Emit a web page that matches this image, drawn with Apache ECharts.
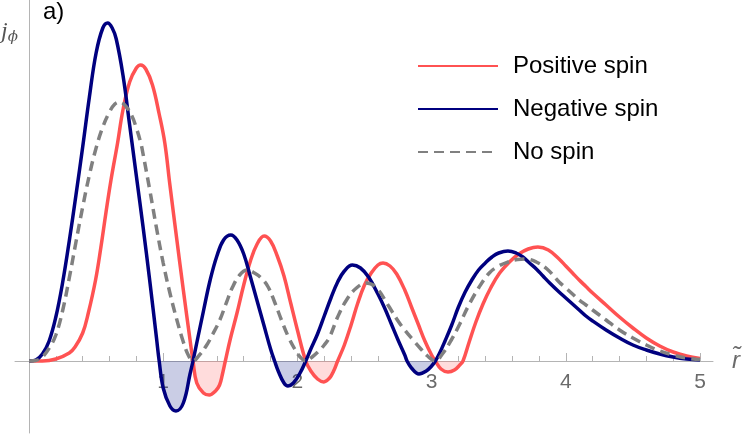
<!DOCTYPE html>
<html>
<head>
<meta charset="utf-8">
<script src="https://cdn.jsdelivr.net/npm/echarts@6/dist/echarts.min.js"></script>
<style>
html, body { margin: 0; padding: 0; background: #fff; }
#chart { width: 750px; height: 436px; }
</style>
</head>
<body>
<div id="chart"></div>
<script>
// [r, j] pairs (j in arbitrary units)
var positiveSpin = [
  [0, 0], [0.1, 0], [0.2, 0.02], [0.3, 0.08], [0.343, 0.14], [0.4, 0.28], [0.442, 0.48],
  [0.496, 0.81], [0.536, 1.14], [0.573, 1.48], [0.611, 1.81], [0.66, 2.18], [0.7, 2.51],
  [0.75, 2.79], [0.8, 2.93], [0.832, 2.96], [0.87, 2.92], [0.92, 2.76], [0.97, 2.47],
  [1.012, 2.18], [1.05, 1.76], [1.1, 1.23], [1.15, 0.71], [1.2, 0.21], [1.222, 0],
  [1.25, -0.22], [1.3, -0.32], [1.343, -0.34], [1.39, -0.30], [1.42, -0.24], [1.44, -0.14],
  [1.463, 0], [1.5, 0.22], [1.55, 0.48], [1.6, 0.76], [1.65, 1.0], [1.7, 1.17], [1.752, 1.25],
  [1.8, 1.2], [1.85, 1.05], [1.9, 0.85], [1.95, 0.58], [2.0, 0.31], [2.062, 0],
  [2.1, -0.1], [2.15, -0.18], [2.197, -0.21], [2.24, -0.17], [2.27, -0.1], [2.3, 0],
  [2.35, 0.16], [2.4, 0.36], [2.45, 0.58], [2.5, 0.76], [2.55, 0.88], [2.6, 0.96],
  [2.638, 0.98], [2.69, 0.95], [2.74, 0.87], [2.8, 0.71], [2.85, 0.54], [2.9, 0.37],
  [2.95, 0.2], [3.0, 0.06], [3.028, 0], [3.07, -0.08], [3.122, -0.11], [3.17, -0.09],
  [3.21, -0.04], [3.234, 0], [3.28, 0.19], [3.33, 0.39], [3.383, 0.57], [3.44, 0.73],
  [3.507, 0.88], [3.58, 0.99], [3.65, 1.07], [3.72, 1.12], [3.792, 1.14], [3.87, 1.11],
  [3.95, 1.02], [4.0, 0.95], [4.05, 0.88], [4.1, 0.81], [4.15, 0.745], [4.2, 0.68],
  [4.3, 0.56], [4.4, 0.44], [4.5, 0.33], [4.6, 0.23], [4.7, 0.15], [4.8, 0.09],
  [4.9, 0.05], [5, 0.024]
]
var negativeSpin = [
  [0, 0], [0.05, 0.01], [0.1, 0.07], [0.15, 0.2], [0.2, 0.44], [0.25, 0.78], [0.3, 1.2],
  [0.35, 1.66], [0.4, 2.14], [0.45, 2.64], [0.5, 3.08], [0.55, 3.33], [0.586, 3.38],
  [0.62, 3.33], [0.65, 3.22], [0.7, 2.86], [0.75, 2.36], [0.8, 1.85], [0.85, 1.34],
  [0.9, 0.8], [0.95, 0.23], [0.97, 0], [1.0, -0.27], [1.05, -0.45], [1.095, -0.5],
  [1.15, -0.42], [1.2, -0.13], [1.222, 0], [1.25, 0.18], [1.3, 0.5], [1.35, 0.81],
  [1.4, 1.05], [1.45, 1.21], [1.504, 1.26], [1.55, 1.21], [1.6, 1.07], [1.65, 0.84],
  [1.7, 0.6], [1.75, 0.36], [1.8, 0.12], [1.83, 0], [1.86, -0.11], [1.9, -0.22],
  [1.93, -0.25], [1.97, -0.22], [2.02, -0.12], [2.062, 0], [2.1, 0.12], [2.15, 0.27],
  [2.2, 0.45], [2.25, 0.63], [2.3, 0.79], [2.35, 0.9], [2.41, 0.96], [2.47, 0.93],
  [2.53, 0.84], [2.6, 0.67], [2.65, 0.53], [2.7, 0.37], [2.75, 0.21], [2.8, 0.06],
  [2.817, 0], [2.85, -0.07], [2.906, -0.13], [2.96, -0.1], [3.0, -0.05], [3.028, 0],
  [3.06, 0.08], [3.1, 0.2], [3.15, 0.36], [3.2, 0.54], [3.25, 0.69], [3.3, 0.81],
  [3.35, 0.91], [3.4, 0.98], [3.45, 1.04], [3.5, 1.08], [3.569, 1.1], [3.63, 1.08],
  [3.68, 1.04], [3.73, 0.98], [3.78, 0.92], [3.83, 0.85], [3.88, 0.78], [3.95, 0.69],
  [4.0, 0.63], [4.05, 0.57], [4.1, 0.51], [4.15, 0.45], [4.2, 0.4], [4.3, 0.31],
  [4.4, 0.23], [4.5, 0.16], [4.6, 0.11], [4.7, 0.07], [4.8, 0.04], [4.9, 0.02], [5, 0.01]
]
var noSpin = [
  [0, 0], [0.05, 0.005], [0.1, 0.04], [0.156, 0.14], [0.2, 0.26], [0.25, 0.5], [0.3, 0.83],
  [0.35, 1.19], [0.4, 1.54], [0.45, 1.86], [0.5, 2.13], [0.55, 2.34], [0.6, 2.49],
  [0.64, 2.57], [0.678, 2.59], [0.72, 2.55], [0.767, 2.45], [0.8, 2.33], [0.833, 2.18],
  [0.85, 2.07], [0.9, 1.71], [0.95, 1.33], [1.0, 0.98], [1.05, 0.68], [1.1, 0.42],
  [1.15, 0.19], [1.19, 0.05], [1.222, 0], [1.27, 0.06], [1.32, 0.15], [1.37, 0.27],
  [1.422, 0.41], [1.47, 0.58], [1.517, 0.74], [1.57, 0.86], [1.626, 0.91], [1.68, 0.88],
  [1.73, 0.83], [1.782, 0.74], [1.83, 0.59], [1.881, 0.41], [1.93, 0.25], [1.98, 0.12],
  [2.02, 0.04], [2.062, 0], [2.11, 0.04], [2.16, 0.1], [2.2, 0.16], [2.24, 0.24],
  [2.3, 0.44], [2.366, 0.61], [2.44, 0.73], [2.514, 0.78], [2.59, 0.73], [2.675, 0.56],
  [2.75, 0.4], [2.8, 0.31], [2.862, 0.21], [2.92, 0.12], [2.97, 0.05], [3.028, 0],
  [3.08, 0.07], [3.147, 0.21], [3.21, 0.37], [3.27, 0.54], [3.35, 0.73], [3.43, 0.88],
  [3.5, 0.95], [3.57, 0.99], [3.64, 1.015], [3.7, 1.02], [3.78, 0.99], [3.86, 0.92],
  [3.95, 0.79], [4.0, 0.73], [4.05, 0.67], [4.1, 0.61], [4.15, 0.56], [4.2, 0.51],
  [4.3, 0.41], [4.4, 0.31], [4.5, 0.23], [4.6, 0.16], [4.7, 0.1], [4.8, 0.06],
  [4.9, 0.03], [5, 0.015]
]
var xTicks = [1, 2, 3, 4, 5]
var seriesNames = ['Positive spin', 'Negative spin', 'No spin']

// keep only the parts below the axis, broken by nulls, for the shaded dips
function negativeParts (data) {
  var out = []
  var open = false
  for (var i = 0; i < data.length; i++) {
    if (data[i][1] <= 0) {
      out.push(data[i])
      open = true
    } else if (open) {
      out.push([data[i][0], null])
      open = false
    }
  }
  return out
}

var axisGray = '#b4b4b4'
var yMin = -0.72
var yMax = 3.61
var smoothness = 0.4
var font = 'Liberation Sans, Arial, sans-serif'

var chart = echarts.init(document.getElementById('chart'))
chart.setOption({
  animation: false,
  backgroundColor: '#fff',
  textStyle: { fontFamily: font },
  grid: [
    // data grid: its bottom edge is the j = 0 line
    { left: 29, right: 50, top: 0, bottom: 75, outerBoundsMode: 'none', containLabel: false },
    // frame grid: the two axis lines, which run a bit past the data range
    { left: 15, right: 37, top: 0, bottom: 3, outerBoundsMode: 'none', containLabel: false }
  ],
  legend: {
    data: seriesNames,
    orient: 'vertical',
    left: 417,
    top: 54,
    padding: 0,
    itemWidth: 80,
    itemHeight: 22,
    itemGap: 19,
    itemStyle: { opacity: 0 },
    textStyle: { fontSize: 24, color: '#000', padding: [0, 0, 0, 10] }
  },
  xAxis: [
    {
      type: 'value',
      gridIndex: 0,
      min: 0,
      max: 5,
      interval: 1,
      axisLine: { show: false, onZero: false },
      axisTick: { show: true, inside: true, length: 8, lineStyle: { color: axisGray } },
      minorTick: { show: true, splitNumber: 5, length: 5, lineStyle: { color: axisGray } },
      splitLine: { show: false },
      axisLabel: {
        show: true,
        margin: 11,
        fontSize: 21,
        color: '#6b6b6b',
        formatter: function (v) { return xTicks.indexOf(v) >= 0 ? String(v) : '' }
      }
    },
    {
      type: 'value',
      gridIndex: 1,
      min: -0.1043,
      max: 5.0969,
      axisLine: { show: true, onZero: true, lineStyle: { color: axisGray, width: 1 } },
      axisTick: { show: false },
      axisLabel: { show: false },
      splitLine: { show: false },
      name: 'r\u0303',
      nameLocation: 'end',
      nameGap: 19,
      nameTextStyle: { fontSize: 24, fontStyle: 'italic', color: '#6b6b6b', verticalAlign: 'middle' }
    }
  ],
  yAxis: [
    {
      type: 'value',
      gridIndex: 0,
      min: 0,
      max: yMax,
      axisLine: { show: false },
      axisTick: { show: false },
      axisLabel: { show: false },
      splitLine: { show: false }
    },
    {
      type: 'value',
      gridIndex: 1,
      min: yMin,
      max: yMax,
      axisLine: { show: true, onZero: true, lineStyle: { color: axisGray, width: 1 } },
      axisTick: { show: false },
      axisLabel: { show: false },
      splitLine: { show: false }
    }
  ],
  graphic: [
    {
      type: 'text',
      left: 43,
      top: 0,
      style: { text: 'a)', fontSize: 24, fill: '#000', fontFamily: font }
    },
    {
      type: 'text',
      left: 1,
      top: 20,
      style: {
        text: '{j|j}{p|\u03d5}',
        rich: {
          j: { fontSize: 24, fontStyle: 'italic', fill: '#555', fontFamily: 'Liberation Serif, serif' },
          p: { fontSize: 15, fontStyle: 'italic', fill: '#555', padding: [10, 0, 0, 0], fontFamily: 'DejaVu Serif, serif' }
        }
      }
    }
  ],
  series: [
    {
      name: 'fill-negative',
      type: 'line',
      data: negativeParts(negativeSpin),
      smooth: smoothness,
      symbol: 'none',
      clip: false,
      connectNulls: false,
      lineStyle: { width: 0 },
      areaStyle: { color: 'rgba(20, 30, 140, 0.32)', origin: 0 },
      z: 1
    },
    {
      name: 'fill-positive',
      type: 'line',
      data: negativeParts(positiveSpin),
      smooth: smoothness,
      symbol: 'none',
      clip: false,
      connectNulls: false,
      lineStyle: { width: 0 },
      areaStyle: { color: 'rgba(255, 90, 90, 0.3)', origin: 0 },
      z: 1
    },
    {
      name: seriesNames[0],
      type: 'line',
      data: positiveSpin,
      smooth: smoothness,
      symbol: 'none',
      clip: false,
      color: '#ff5252',
      lineStyle: { color: '#ff5252', width: 3.5 },
      z: 3
    },
    {
      name: seriesNames[1],
      type: 'line',
      data: negativeSpin,
      smooth: smoothness,
      symbol: 'none',
      clip: false,
      color: '#00007f',
      lineStyle: { color: '#00007f', width: 3.5 },
      z: 4
    },
    {
      name: seriesNames[2],
      type: 'line',
      data: noSpin,
      smooth: smoothness,
      symbol: 'none',
      clip: false,
      color: '#808080',
      lineStyle: { color: '#808080', width: 3.5, type: [10, 6] },
      z: 5
    }
  ]
})
</script>
</body>
</html>
